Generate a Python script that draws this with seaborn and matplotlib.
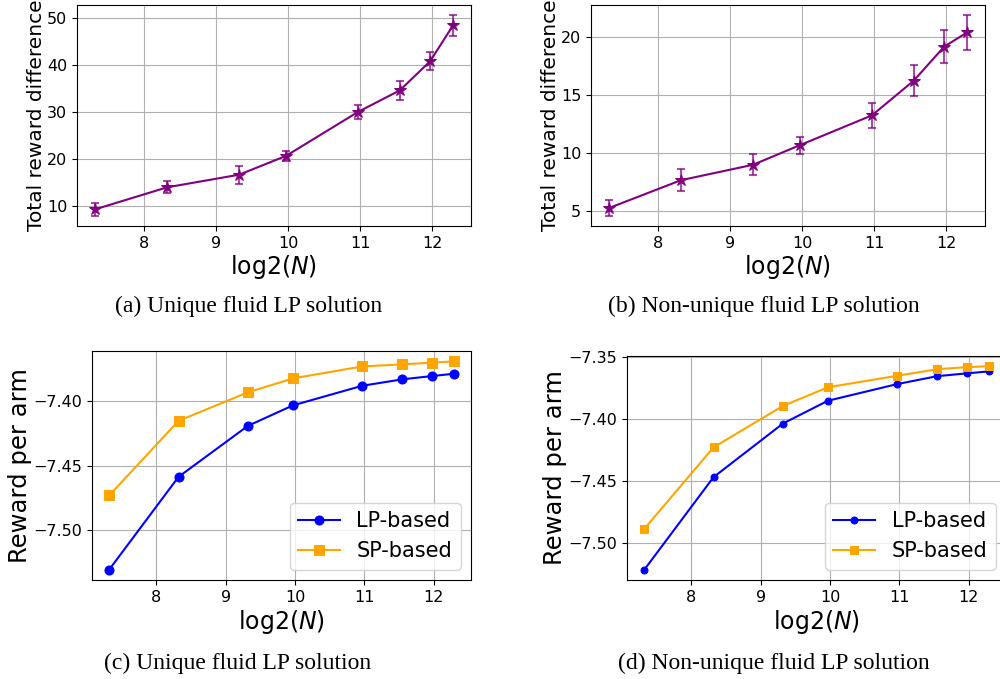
import numpy as np
import pandas as pd
import matplotlib
matplotlib.use("Agg")
import matplotlib.pyplot as plt
import seaborn as sns
from matplotlib.ticker import MultipleLocator

# x positions: log2(N) for N = 160, 320, 640, 1000, 2000, 3000, 4000, 5000
log2_n = [7.32, 8.32, 9.32, 9.97, 10.97, 11.55, 11.97, 12.29]

# (a) unique fluid LP solution: total reward difference and error
diff_unique = [9.2, 13.9, 16.6, 20.6, 30.0, 34.6, 40.8, 48.5]
err_unique = [1.4, 1.3, 1.9, 1.0, 1.5, 2.0, 1.9, 2.2]

# (b) non-unique fluid LP solution
diff_nonunique = [5.29, 7.69, 9.02, 10.71, 13.28, 16.27, 19.19, 20.43]
err_nonunique = [0.68, 0.97, 0.90, 0.73, 1.05, 1.33, 1.42, 1.50]

# (c) reward per arm, unique
lp_unique = [-7.5304, -7.4585, -7.4190, -7.4031, -7.3879, -7.3829, -7.3804, -7.3786]
sp_unique = [-7.4729, -7.4151, -7.3930, -7.3822, -7.3729, -7.3713, -7.3700, -7.3690]

# (d) reward per arm, non-unique
lp_nonunique = [-7.5214, -7.4468, -7.4037, -7.3853, -7.3719, -7.3655, -7.3633, -7.3617]
sp_nonunique = [-7.4885, -7.4228, -7.3895, -7.3745, -7.3652, -7.3599, -7.3583, -7.3575]

captions = ["(a) Unique fluid LP solution", "(b) Non-unique fluid LP solution",
            "(c) Unique fluid LP solution", "(d) Non-unique fluid LP solution"]

plt.rcParams["font.family"] = ["DejaVu Sans"]
plt.rcParams["mathtext.fontset"] = "dejavusans"

fig = plt.figure(figsize=(10, 6.79), dpi=100)

ax_a = fig.add_axes([0.077, 0.6672, 0.394, 0.3255])
ax_b = fig.add_axes([0.591, 0.6672, 0.394, 0.3255])
ax_c = fig.add_axes([0.092, 0.1458, 0.379, 0.3373])
ax_d = fig.add_axes([0.627, 0.1458, 0.379, 0.3299])


def diff_panel(ax, y, err):
    df = pd.DataFrame({"x": log2_n, "y": y})
    ax.errorbar(log2_n, y, yerr=err, fmt="none", ecolor="purple", alpha=0.7,
                capsize=3, elinewidth=1.5, capthick=1.5)
    sns.lineplot(data=df, x="x", y="y", ax=ax, color="purple", marker="*",
                 markersize=9, markeredgecolor="purple", linewidth=1.5)
    ax.set_ylabel("Total reward difference", fontsize=14.5, labelpad=1)


def reward_panel(ax, lp, sp, ms_c, ms_s):
    df = pd.DataFrame({"x": log2_n * 2, "y": lp + sp,
                       "method": ["LP-based"] * len(lp) + ["SP-based"] * len(sp)})
    sns.lineplot(data=df[df.method == "LP-based"], x="x", y="y", ax=ax, color="blue",
                 marker="o", markersize=ms_c, markeredgecolor="blue", linewidth=1.5,
                 label="LP-based")
    sns.lineplot(data=df[df.method == "SP-based"], x="x", y="y", ax=ax, color="orange",
                 marker="s", markersize=ms_s, markeredgecolor="orange", linewidth=1.5,
                 label="SP-based")
    ax.yaxis.set_major_locator(MultipleLocator(0.05))
    ax.set_ylabel("Reward per arm", fontsize=17.5, labelpad=1)
    ax.legend(loc="lower right", fontsize=15)


diff_panel(ax_a, diff_unique, err_unique)
diff_panel(ax_b, diff_nonunique, err_nonunique)
reward_panel(ax_c, lp_unique, sp_unique, 6.5, 6.5)
reward_panel(ax_d, lp_nonunique, sp_nonunique, 5, 5.5)

for ax in [ax_a, ax_b, ax_c, ax_d]:
    ax.grid(True, color="#b0b0b0", linewidth=0.8)
    ax.set_axisbelow(True)
    ax.set_xlabel("log2($N$)", fontsize=17, labelpad=2)
    ax.tick_params(labelsize=11.5)
    for s in ax.spines.values():
        s.set_color("black")
        s.set_linewidth(0.8)

cap_pos = [(0.249, 1 - 306 / 679), (0.7635, 1 - 306 / 679),
           (0.238, 1 - 663 / 679), (0.7735, 1 - 663 / 679)]
for (cx, cy), txt in zip(cap_pos, captions):
    fig.text(cx, cy, txt, ha="center", va="center", fontsize=17,
             family=["Liberation Serif", "DejaVu Serif"])

fig.savefig("out.png", dpi=100)
